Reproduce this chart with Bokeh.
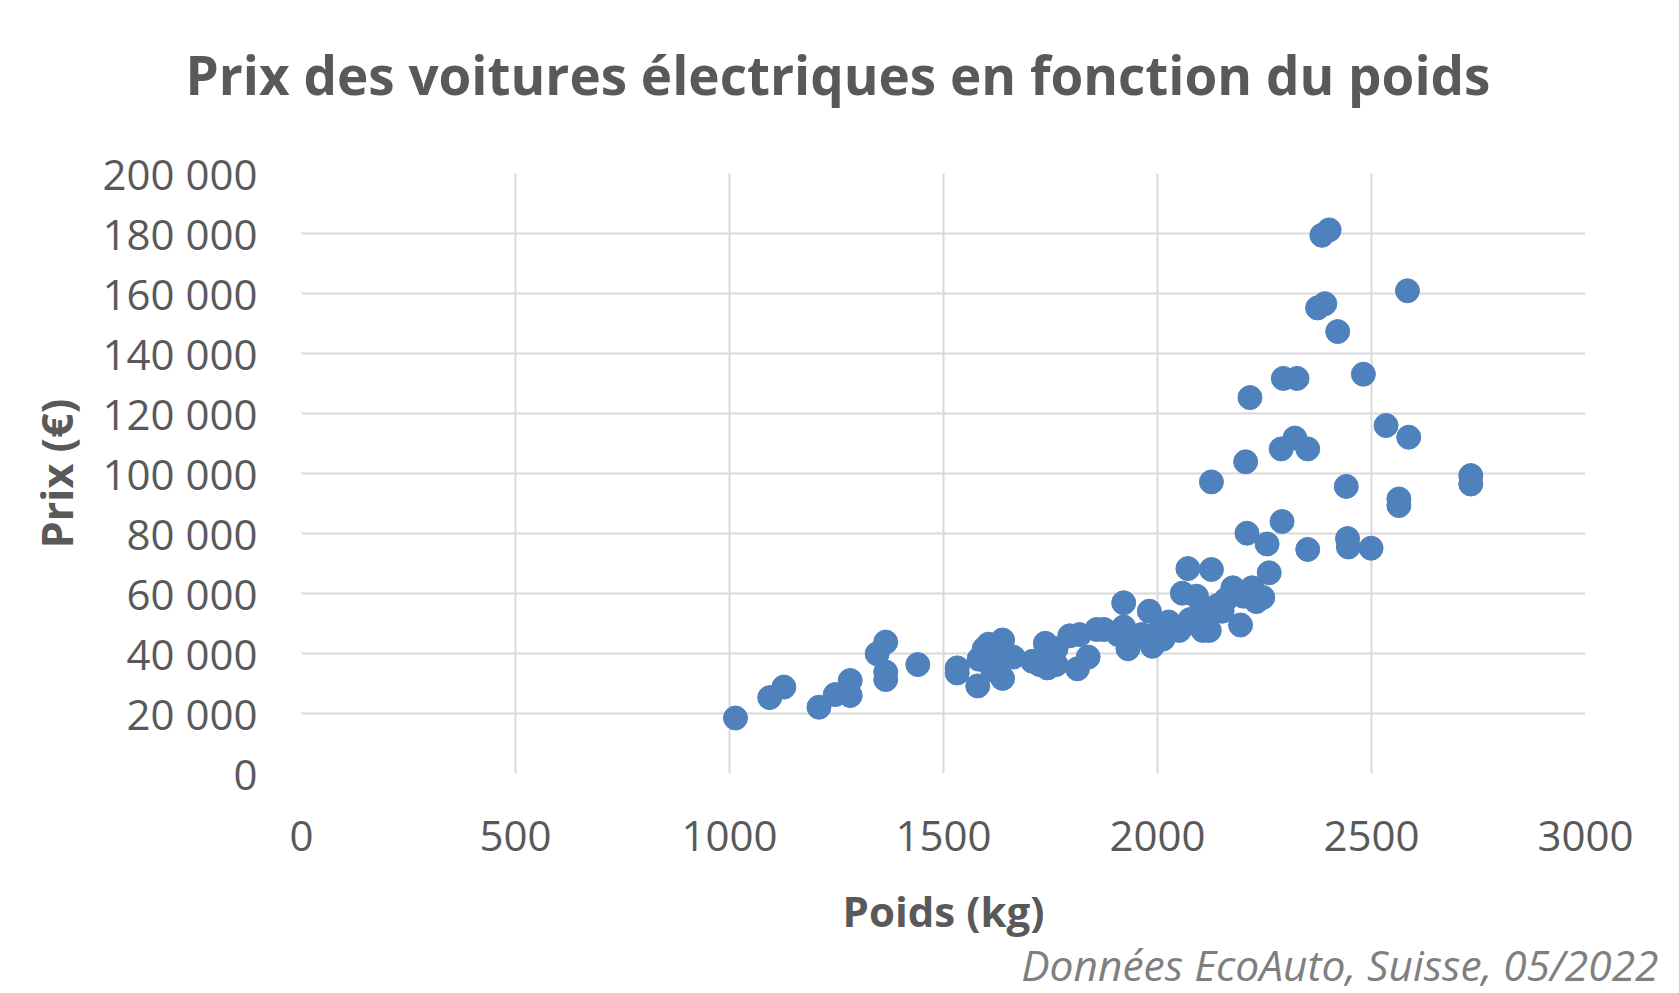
from bokeh.plotting import figure
from bokeh.models import Range1d, FixedTicker, Title, ColumnDataSource
from bokeh.embed import file_html
from bokeh.resources import INLINE

title_text = "Prix des voitures électriques en fonction du poids"
x_label = "Poids (kg)"
y_label = "Prix (€)"
source_text = "Données EcoAuto, Suisse, 05/2022"

x_ticks = [0, 500, 1000, 1500, 2000, 2500, 3000]
y_ticks = [0, 20000, 40000, 60000, 80000, 100000, 120000, 140000, 160000, 180000, 200000]
y_tick_labels = ["0", "20 000", "40 000", "60 000", "80 000", "100 000",
                 "120 000", "140 000", "160 000", "180 000", "200 000"]

poids = [1014, 1094, 1127, 1209, 1247, 1282, 1282, 1345, 1365, 1365, 1365, 1440,
         1532, 1532, 1580, 1583, 1595, 1605, 1615, 1638, 1638, 1625, 1663, 1708,
         1725, 1738, 1743, 1763, 1763, 1795, 1813, 1818, 1838, 1858, 1875, 1908,
         1921, 1921, 1931, 1963, 1981, 1988, 2001, 2013, 2026, 2041, 2051, 2058,
         2071, 2091, 2093, 2106, 2121, 2126, 2126, 2139, 2151, 2176, 2194, 2201,
         2206, 2209, 2216, 2221, 2231, 2246, 2256, 2261, 2289, 2291, 2294, 2321,
         2326, 2351, 2351, 2374, 2384, 2391, 2401, 2421, 2441, 2444, 2446, 2481,
         2499, 2534, 2564, 2564, 2584, 2587, 2732, 2732, 2076, 2160, 2186, 2111]
prix = [18500, 25300, 28800, 22100, 26300, 31000, 26000, 39900, 43800, 33800, 31300, 36300,
        35200, 33500, 29200, 38100, 41600, 43100, 34500, 44500, 31700, 39100, 38800, 37400,
        36300, 43400, 35200, 36300, 41600, 45900, 34900, 46300, 38800, 48000, 48000, 46300,
        56900, 48800, 41600, 46300, 54100, 42400, 47000, 44800, 50500, 48800, 47700, 60100,
        68300, 59100, 52300, 47700, 47700, 68000, 97200, 55900, 54100, 61900, 49500, 59100,
        103900, 80100, 125300, 61900, 57300, 58700, 76500, 66900, 108200, 84000, 131700, 111800,
        131700, 108200, 74700, 155200, 179400, 156600, 181200, 147300, 95700, 78300, 75500, 133100,
        75100, 116000, 91500, 89300, 160900, 112100, 99300, 96500, 51300, 58000, 60500, 53000]

GREY = "#595959"
FONT = "Open Sans"

source = ColumnDataSource(data=dict(poids=poids, prix=prix))

p = figure(width=1679, height=993, output_backend="svg", toolbar_location=None,
           title=None,
           x_range=Range1d(0, 3000), y_range=Range1d(0, 200000),
           min_border_left=301, min_border_right=94, min_border_top=173,
           min_border_bottom=220)

p.outline_line_color = None
p.background_fill_color = "white"
p.border_fill_color = "white"
p.styles = {"outline": "2px solid #d9d9d9", "outline-offset": "-3px"}

p.xaxis.ticker = FixedTicker(ticks=x_ticks)
p.yaxis.ticker = FixedTicker(ticks=y_ticks)
p.yaxis.major_label_overrides = {t: l for t, l in zip(y_ticks, y_tick_labels)}
p.xaxis.major_label_overrides = {t: str(t) for t in x_ticks}

for ax in (p.xaxis, p.yaxis):
    ax.axis_line_color = None
    ax.major_tick_line_color = None
    ax.minor_tick_line_color = None
    ax.major_label_text_font = FONT
    ax.major_label_text_font_size = "42px"
    ax.major_label_text_color = GREY
    ax.axis_label_text_font = FONT
    ax.axis_label_text_font_style = "bold"
    ax.axis_label_text_color = GREY

p.xaxis.axis_label = x_label
p.yaxis.axis_label = y_label
p.xaxis.axis_label_text_font_size = "42px"
p.yaxis.axis_label_text_font_size = "43px"
p.yaxis.major_label_standoff = 38
p.xaxis.major_label_standoff = 41
p.yaxis.axis_label_standoff = 14
p.xaxis.axis_label_standoff = 28

p.xgrid.ticker = FixedTicker(ticks=x_ticks)
p.ygrid.ticker = FixedTicker(ticks=y_ticks)
for g in (p.xgrid, p.ygrid):
    g.grid_line_color = "#d9d9d9"
    g.grid_line_width = 2

# spacer between frame and main title, then the main title
spacer = Title(text=" ", text_font=FONT, text_font_size="10px", standoff=47)
main_title = Title(text=title_text, align="left", offset=-116, standoff=0,
                   text_font=FONT, text_font_size="53px", text_font_style="bold",
                   text_color=GREY)
p.add_layout(spacer, "above")
p.add_layout(main_title, "above")

foot = Title(text=source_text, align="right", offset=-73, standoff=-12,
             vertical_align="top", text_font=FONT, text_font_size="42.5px",
             text_font_style="italic", text_color="#7f7f7f")
p.add_layout(foot, "below")

p.scatter("poids", "prix", source=source, size=24, marker="circle",
          fill_color="#4f81bd", line_color="#4f81bd")

open("out.html", "w").write(file_html(p, INLINE))
